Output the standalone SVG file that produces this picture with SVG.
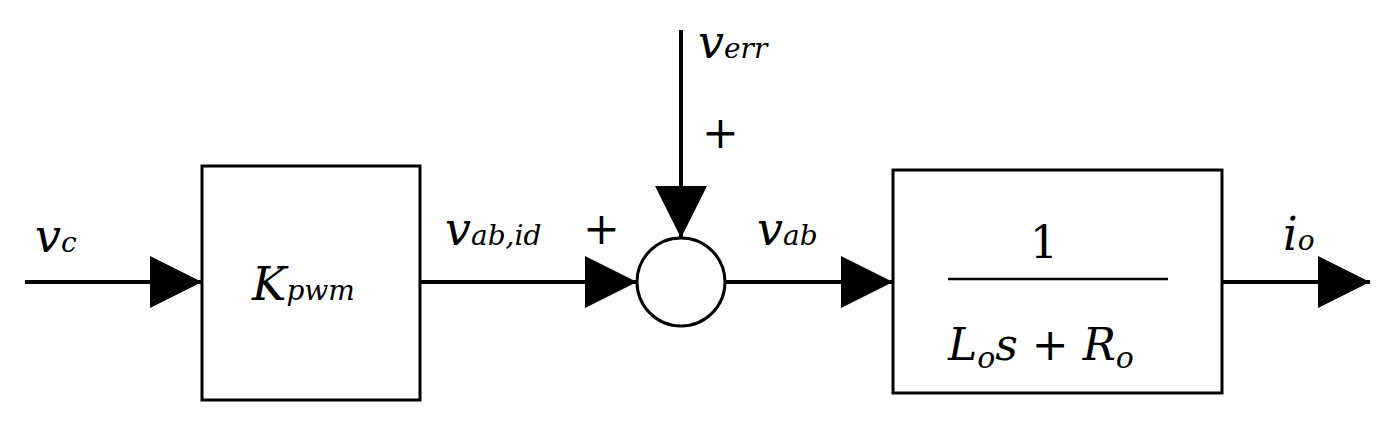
<svg xmlns="http://www.w3.org/2000/svg" width="1387" height="429" viewBox="0 0 1387 429">
<style>
.l{stroke:#000;stroke-width:4;fill:none}
.b{stroke:#000;stroke-width:3;fill:#fff}
.t{font-family:'DejaVu Serif','Liberation Serif',serif;font-style:italic;fill:#000}
.s{font-size:28px}
.u{font-family:'DejaVu Serif','Liberation Serif',serif;fill:#000}
</style>
<defs>
<marker id="a" markerUnits="userSpaceOnUse" markerWidth="54" markerHeight="52" refX="52" refY="26" orient="auto"><path d="M0,0L52,26L0,52Z" fill="#000"/></marker>
</defs>
<rect width="1387" height="429" fill="#fff"/>
<g id="connectors">
<line class="l" x1="25" y1="282" x2="202" y2="282" marker-end="url(#a)"/>
<line class="l" x1="420" y1="282" x2="637" y2="282" marker-end="url(#a)"/>
<line class="l" x1="681" y1="30" x2="681" y2="238" marker-end="url(#a)"/>
<line class="l" x1="726" y1="282" x2="893" y2="282" marker-end="url(#a)"/>
<line class="l" x1="1222" y1="282" x2="1370" y2="282" marker-end="url(#a)"/>
</g>
<g id="kpwm">
<rect class="b" x="202" y="166" width="218" height="234"/>
<text class="t" x="252" y="300" font-size="46">K<tspan class="s">pwm</tspan></text>
</g>
<g id="sum">
<circle class="b" cx="681" cy="282" r="44"/>
</g>
<g id="plant">
<rect class="b" x="893" y="170" width="329" height="223"/>
<text class="u" x="1030" y="258" font-size="44">1</text>
<line x1="948" y1="279" x2="1168" y2="279" stroke="#000" stroke-width="2.5"/>
<text class="t" x="948" y="360" font-size="44">L<tspan font-size="30" dy="8">o</tspan><tspan dy="-8">s</tspan><tspan font-style="normal"> + </tspan>R<tspan font-size="30" dy="8">o</tspan></text>
</g>
<g id="labels">
<text class="t" x="35" y="252" font-size="46">v<tspan class="s">c</tspan></text>
<text class="t" x="445" y="245" font-size="46">v<tspan class="s">ab,id</tspan></text>
<text class="u" x="583" y="244" font-size="44">+</text>
<text class="t" x="698" y="58" font-size="46">v<tspan class="s">err</tspan></text>
<text class="u" x="702" y="148" font-size="44">+</text>
<text class="t" x="757" y="245" font-size="46">v<tspan class="s">ab</tspan></text>
<text class="t" x="1283" y="250" font-size="46">i<tspan class="s">o</tspan></text>
</g>
</svg>
